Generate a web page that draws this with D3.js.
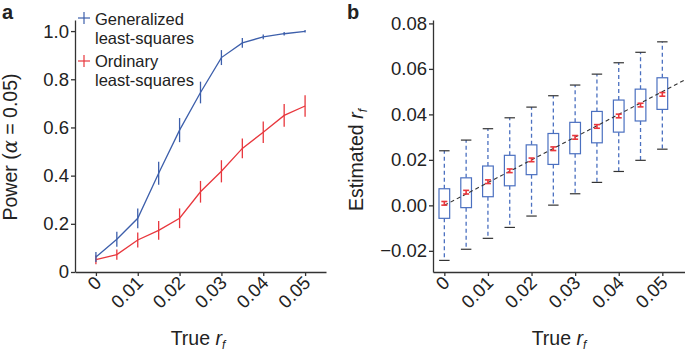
<!DOCTYPE html>
<html><head><meta charset="utf-8">
<script src="https://cdn.jsdelivr.net/npm/d3@7"></script>
<style>
body{margin:0;background:#fff;}
svg text{font-family:"Liberation Sans",Arial,Helvetica,sans-serif;fill:#222;}
</style></head>
<body><svg id="c" width="685" height="352"></svg>
<script>
// ---- data ----
const trueRf = [0,0.005,0.01,0.015,0.02,0.025,0.03,0.035,0.04,0.045,0.05];
const glsPower = [0.062,0.136,0.223,0.41,0.589,0.745,0.89,0.951,0.976,0.989,0.999];
const glsErr   = [0.021,0.031,0.041,0.048,0.05,0.045,0.031,0.02,0.01,0.007,0.005];
const olsPower = [0.051,0.072,0.133,0.173,0.223,0.333,0.418,0.513,0.58,0.65,0.689];
const olsErr   = [0.019,0.021,0.031,0.039,0.041,0.045,0.046,0.041,0.045,0.047,0.045];
const whiskerHigh = [0.024,0.0287,0.0337,0.0385,0.0432,0.0482,0.0529,0.0577,0.0627,0.0673,0.0719];
const q3 = [0.0073,0.0121,0.0173,0.022,0.0266,0.0316,0.0365,0.0413,0.0463,0.0511,0.0561];
const q1 = [-0.0057,-0.001,0.0038,0.0086,0.0135,0.018,0.0227,0.0275,0.0322,0.0371,0.0422];
const whiskerLow = [-0.0242,-0.0193,-0.0145,-0.0097,-0.0047,0.0001,0.0051,0.0101,0.0149,0.0198,0.0247];
const estMean = [0.0009,0.0058,0.0104,0.0152,0.020,0.0249,0.0299,0.0347,0.0393,0.0441,0.0488];
const meanCI = 0.0008;
const xTicks = [0,0.01,0.02,0.03,0.04,0.05];
const xTickLabels = ["0","0.01","0.02","0.03","0.04","0.05"];
const yTicksA = [0,0.2,0.4,0.6,0.8,1.0];
const yTickLabelsA = ["0","0.2","0.4","0.6","0.8","1.0"];
const yTicksB = [-0.02,0,0.02,0.04,0.06,0.08];
const yTickLabelsB = ["\u22120.02","0.00","0.02","0.04","0.06","0.08"];
const legendLabels = [["Generalized","least-squares"],["Ordinary","least-squares"]];

const BLUE="#3d5fab", RED="#e8373d", BOXBLUE="#4b70c0", AX="#333";
const FS=18.5, TFS=19.5, LFS=16.5;
const svg=d3.select("#c");

function styleAxis(g){
  g.select(".domain").attr("stroke",AX).attr("stroke-width",1.3);
  g.selectAll(".tick line").attr("stroke",AX).attr("stroke-width",1.3);
  g.selectAll(".tick text").style("font-size",FS+"px").attr("fill","#222");
}
function xAxis(x,y0,labels){
  const g=svg.append("g").attr("transform",`translate(0,${y0})`)
    .call(d3.axisBottom(x).tickValues(xTicks).tickSize(4).tickSizeOuter(0).tickFormat((d,i)=>labels[i]));
  styleAxis(g);
  g.selectAll(".tick text").attr("text-anchor","end").attr("dy",null).attr("y",0)
    .attr("transform","translate(6,12) rotate(-45)");
  return g;
}
function yAxis(y,x0,ticks,labels){
  const g=svg.append("g").attr("transform",`translate(${x0},0)`)
    .call(d3.axisLeft(y).tickValues(ticks).tickSize(4).tickSizeOuter(0).tickFormat((d,i)=>labels[i]));
  styleAxis(g);
  g.selectAll(".tick text").attr("x",-6);
  return g;
}
function trueLabel(x){
  svg.append("text").attr("x",x).attr("y",345).attr("text-anchor","middle").style("font-size",TFS+"px")
    .html('True <tspan font-style="italic">r</tspan><tspan font-style="italic" font-size="12px" dy="4">f</tspan>');
}

// ---- panel a ----
const xa=d3.scaleLinear().domain([-0.005,0.055]).range([75,326]);
const ya=d3.scaleLinear().domain([0,1.046]).range([272,20]);
xAxis(xa,272,xTickLabels);
yAxis(ya,75,yTicksA,yTickLabelsA);

function series(vals,errs,color){
  const line=d3.line().x((d,i)=>xa(trueRf[i])).y(d=>ya(d));
  svg.append("path").attr("d",line(vals)).attr("fill","none").attr("stroke",color).attr("stroke-width",1.3);
  svg.append("g").selectAll("line").data(vals).join("line")
    .attr("x1",(d,i)=>xa(trueRf[i])).attr("x2",(d,i)=>xa(trueRf[i]))
    .attr("y1",(d,i)=>ya(d-errs[i])).attr("y2",(d,i)=>ya(d+errs[i]))
    .attr("stroke",color).attr("stroke-width",1.3);
}
series(olsPower,olsErr,RED);
series(glsPower,glsErr,BLUE);

// legend
const leg=svg.append("g");
legendLabels.forEach((lab,i)=>{
  const cy=i===0?18:61, col=i===0?BLUE:RED;
  leg.append("line").attr("x1",78).attr("x2",90).attr("y1",cy).attr("y2",cy).attr("stroke",col).attr("stroke-width",1.2);
  leg.append("line").attr("x1",84).attr("x2",84).attr("y1",cy-6).attr("y2",cy+6).attr("stroke",col).attr("stroke-width",1.2);
  const base=i===0?25:67;
  leg.append("text").attr("x",95).attr("y",base).style("font-size",LFS+"px").text(lab[0]);
  leg.append("text").attr("x",95).attr("y",base+19).style("font-size",LFS+"px").text(lab[1]);
});

// axis titles a
svg.append("text").attr("transform","translate(17,147) rotate(-90)").attr("text-anchor","middle")
  .style("font-size",TFS+"px")
  .html('Power (<tspan font-style="italic" font-family="DejaVu Serif">\u03b1</tspan> = 0.05)');
trueLabel(198);
svg.append("text").attr("x",2).attr("y",19).style("font-size","20px").style("font-weight","bold").text("a");

// ---- panel b ----
const xb=d3.scaleLinear().domain([-0.0026,0.0552]).range([433,685]);
const yb=d3.scaleLinear().domain([-0.0293,0.0815]).range([272,20]);
xAxis(xb,272,xTickLabels);
yAxis(yb,433,yTicksB,yTickLabelsB);

const bw=xb(0.00245)-xb(0), cw=xb(0.0012)-xb(0);
const gb=svg.append("g");
trueRf.forEach((t,i)=>{
  const cx=xb(t);
  gb.append("line").attr("x1",cx).attr("x2",cx).attr("y1",yb(q3[i])).attr("y2",yb(whiskerHigh[i]))
    .attr("stroke",BOXBLUE).attr("stroke-width",1.3).attr("stroke-dasharray","4,3");
  gb.append("line").attr("x1",cx).attr("x2",cx).attr("y1",yb(q1[i])).attr("y2",yb(whiskerLow[i]))
    .attr("stroke",BOXBLUE).attr("stroke-width",1.3).attr("stroke-dasharray","4,3");
  [whiskerHigh[i],whiskerLow[i]].forEach(v=>{
    gb.append("line").attr("x1",cx-cw).attr("x2",cx+cw).attr("y1",yb(v)).attr("y2",yb(v))
      .attr("stroke","#333").attr("stroke-width",1.2);
  });
  gb.append("rect").attr("x",cx-bw/2).attr("width",bw).attr("y",yb(q3[i])).attr("height",yb(q1[i])-yb(q3[i]))
    .attr("fill","#fff").attr("stroke",BOXBLUE).attr("stroke-width",1.2);
});
// diagonal y=x
svg.append("line").attr("x1",xb(0)).attr("y1",yb(0)).attr("x2",xb(0.0552)).attr("y2",yb(0.0552))
  .attr("stroke","#333").attr("stroke-width",1.1).attr("stroke-dasharray","4,3");
// mean markers
trueRf.forEach((t,i)=>{
  const cx=xb(t), m=estMean[i];
  const g=svg.append("g").attr("stroke",RED).attr("stroke-width",1.6);
  g.append("line").attr("x1",cx).attr("x2",cx).attr("y1",yb(m-meanCI)).attr("y2",yb(m+meanCI));
  [m-meanCI,m+meanCI].forEach(v=>g.append("line").attr("x1",cx-3).attr("x2",cx+3).attr("y1",yb(v)).attr("y2",yb(v)));
});
svg.append("text").attr("transform","translate(363,160) rotate(-90)").attr("text-anchor","middle")
  .style("font-size",TFS+"px")
  .html('Estimated <tspan font-style="italic">r</tspan><tspan font-style="italic" font-size="12px" dy="4">f</tspan>');
trueLabel(559);
svg.append("text").attr("x",347).attr("y",19).style("font-size","20px").style("font-weight","bold").text("b");
</script></body></html>
